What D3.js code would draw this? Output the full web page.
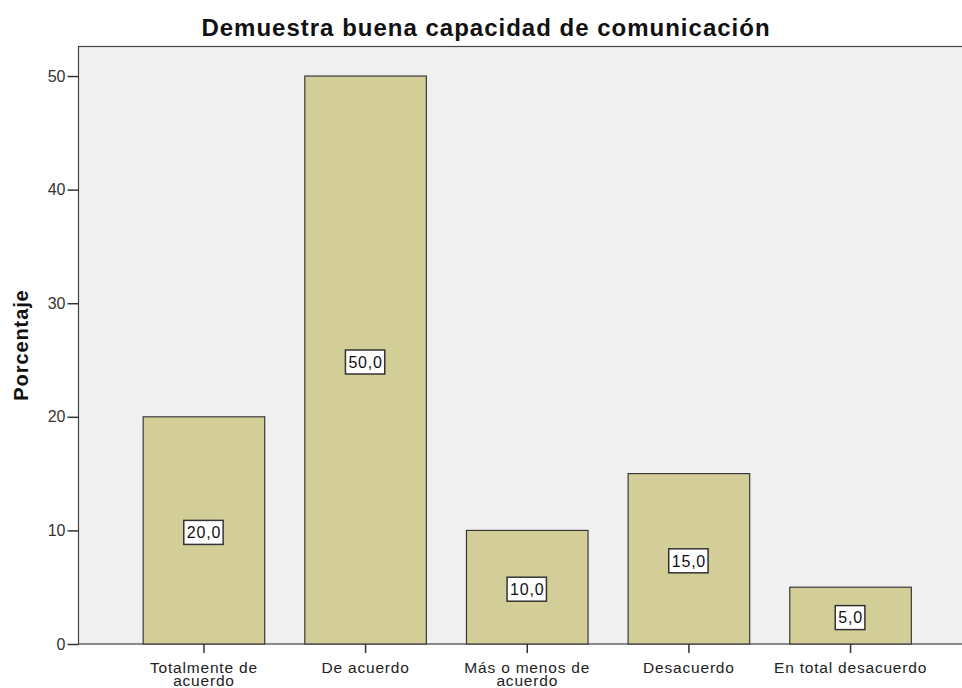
<!DOCTYPE html>
<html>
<head>
<meta charset="utf-8">
<script src="https://cdn.jsdelivr.net/npm/d3@7"></script>
<style>
  body { margin: 0; background: #fff; }
  text { font-family: "Liberation Sans", Arial, sans-serif; }
</style>
</head>
<body>
<div id="chart"></div>
<script>
// chart data
var categories = [["Totalmente de", "acuerdo"], ["De acuerdo"], ["Más o menos de", "acuerdo"], ["Desacuerdo"], ["En total desacuerdo"]];
var percents = [20.0, 50.0, 10.0, 15.0, 5.0];
var yTicks = [0, 10, 20, 30, 40, 50];
var chartTitle = "Demuestra buena capacidad de comunicación";
var yTitle = "Porcentaje";

(function () {
  var width = 962, height = 688;
  var left = 78.5, top = 46.5, bottom = 644, right = 976;

  var svg = d3.select("#chart").append("svg")
    .attr("width", width)
    .attr("height", height);

  var idx = categories.map(function (d, i) { return i; });

  // x: band scale, plot runs a bit past the right edge like the original
  var x = d3.scaleBand().domain(idx).range([left, right])
    .paddingInner(0.248).paddingOuter(0.40);

  var y = d3.scaleLinear().domain([0, 52.6]).range([bottom, top]);

  // plot background + frame
  svg.append("rect")
    .attr("x", left).attr("y", top)
    .attr("width", right - left).attr("height", bottom - top)
    .attr("fill", "#f0f0f0")
    .attr("stroke", "#444").attr("stroke-width", 1.2);

  // bars
  svg.selectAll(".bar").data(percents).enter().append("rect")
    .attr("class", "bar")
    .attr("x", function (d, i) { return x(i); })
    .attr("y", function (d) { return y(d); })
    .attr("width", x.bandwidth())
    .attr("height", function (d) { return y(0) - y(d); })
    .attr("fill", "#d3ce97")
    .attr("stroke", "#3a3a3a").attr("stroke-width", 1.2);

  // value labels in boxes
  var lab = svg.selectAll(".lab").data(percents).enter().append("g")
    .attr("class", "lab")
    .attr("transform", function (d, i) {
      return "translate(" + (x(i) + x.bandwidth() / 2) + "," + (y(d / 2) + 2) + ")";
    });
  lab.append("text")
    .attr("text-anchor", "middle")
    .attr("dy", "0.36em")
    .attr("font-size", 16)
    .attr("letter-spacing", 0.8)
    .attr("fill", "#111")
    .text(function (d) { return d.toFixed(1).replace(".", ","); })
    .each(function () {
      var bb = this.getBBox();
      d3.select(this.parentNode).insert("rect", "text")
        .attr("x", bb.x - 3).attr("y", -12)
        .attr("width", bb.width + 5).attr("height", 24)
        .attr("fill", "#fff")
        .attr("stroke", "#333").attr("stroke-width", 1.5);
    });

  // y axis
  var yAxis = svg.append("g")
    .attr("transform", "translate(" + left + ",0)")
    .call(d3.axisLeft(y).tickValues(yTicks).tickSize(11).tickPadding(2));
  yAxis.select(".domain").remove();
  yAxis.selectAll("line").attr("stroke", "#333").attr("stroke-width", 1.5);
  yAxis.selectAll("text").attr("font-size", 16).attr("fill", "#333")
    .style("font-family", "'Liberation Sans', Arial, sans-serif");

  // x axis
  var xAxis = svg.append("g")
    .attr("transform", "translate(0," + bottom + ")")
    .call(d3.axisBottom(x).tickSize(9).tickFormat(""));
  xAxis.select(".domain").remove();
  xAxis.selectAll("line").attr("stroke", "#333").attr("stroke-width", 1.5);

  svg.selectAll(".cat").data(categories).enter().append("text")
    .attr("class", "cat")
    .attr("text-anchor", "middle")
    .attr("font-size", 15.5)
    .attr("letter-spacing", 0.8)
    .attr("fill", "#222")
    .attr("x", function (d, i) { return x(i) + x.bandwidth() / 2; })
    .attr("y", bottom + 28.5)
    .each(function (d) {
      var t = d3.select(this);
      d.forEach(function (line, j) {
        t.append("tspan")
          .attr("x", t.attr("x"))
          .attr("dy", j === 0 ? 0 : 13.5)
          .text(line);
      });
    });

  // titles
  svg.append("text")
    .attr("x", 486).attr("y", 36)
    .attr("text-anchor", "middle")
    .attr("font-size", 24).attr("font-weight", "bold")
    .attr("letter-spacing", 1)
    .attr("fill", "#111")
    .text(chartTitle);

  svg.append("text")
    .attr("transform", "translate(28,345) rotate(-90)")
    .attr("text-anchor", "middle")
    .attr("font-size", 20).attr("font-weight", "bold")
    .attr("letter-spacing", 0.9)
    .attr("fill", "#111")
    .text(yTitle);
})();
</script>
</body>
</html>
